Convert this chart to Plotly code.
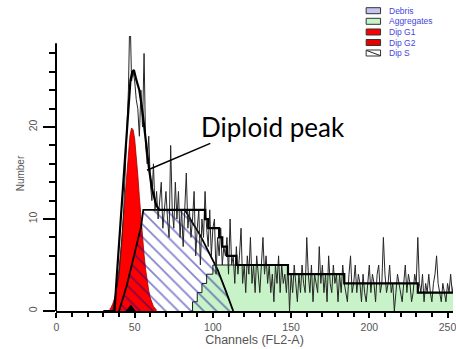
import plotly.graph_objects as go

# ---------------- data ----------------
raw_channels = list(range(30, 256))
raw_counts = [
    0, 0, 0, 0, 0, 0,
    0,
    1, 2, 3, 4, 6, 8, 11, 15, 20, 24,
    33, 25, 26, 25, 23, 22, 19, 24, 20, 28,
    18, 16, 19, 14, 12, 16, 11, 13, 10, 12,
    14, 9, 11, 13, 10, 8, 18, 11, 9, 14,
    10, 13, 8, 11, 7, 12, 15, 9, 11, 8,
    10, 13, 6, 9, 11, 5, 10, 8, 13, 9,
    7, 11, 6, 9, 10, 4, 8, 6, 9, 5,
    7, 6, 8, 4, 10, 5, 6, 3, 7, 4,
    6, 9, 3, 5, 2, 6, 4, 8, 3, 5,
    2, 6, 4, 2, 5, 8, 4, 6, 3, 5,
    2, 4, 1, 5, 3, 6, 2, 5, 3, 4,
    2, 5, 0, 4, 2, 5, 3, 1, 4, 2,
    5, 3, 2, 8, 4, 2, 5, 1, 4, 3,
    2, 7, 3, 5, 2, 4, 1, 6, 3, 2,
    5, 3, 4, 1, 4, 2, 5, 3, 2, 1,
    4, 6, 2, 3, 5, 2, 4, 3, 1, 4,
    2, 1, 3, 5, 2, 4, 3, 1, 4, 5,
    2, 3, 8, 4, 2, 3, 5, 2, 3, 0,
    2, 4, 3, 2, 1, 3, 5, 2, 4, 3,
    1, 2, 4, 3, 8, 3, 2, 4, 1, 3,
    2, 4, 2, 1, 3, 4, 6, 3, 2, 1,
    3, 2, 1, 3, 2, 4, 2, 3, 2,
]

g1_channels = list(range(34, 65))
g1_counts = [0.2, 0.4, 0.8, 1.3, 2.1, 3.2, 4.6, 6.4, 8.5, 10.9, 13.3, 15.7, 17.7,
             19.1, 19.9, 19.7, 18.7, 17.0, 14.8, 12.4, 10.1, 8.0, 6.1, 4.5, 3.2,
             2.2, 1.4, 0.9, 0.5, 0.3, 0.1]

s_channels = [40, 45, 50, 54, 55.5, 82, 92, 100, 103, 108, 113]
s_counts = [0, 2.8, 6.3, 9.1, 11, 11, 8.2, 5.5, 4.5, 2.3, 0]

agg_channels = [86, 87, 87, 90, 90, 93, 93, 96, 96, 100, 100, 148, 148, 184, 184, 231, 231, 256]
agg_counts = [0, 0, 1, 1, 2, 2, 3, 3, 4, 4, 5, 5, 4, 4, 3, 3, 2, 2]

fit_channels = [30, 37.1, 38.4, 39.7, 40.9, 42.2, 43.5, 44.7, 46, 47.3, 48.5, 49.5,
                51.1, 53, 54.9, 56.2, 57.5, 59.3, 61.2, 63.8, 65.7,
                95, 95, 97, 97, 104, 104, 106, 106, 109, 109, 115, 115,
                148, 148, 184, 184, 231, 231, 256]
fit_counts = [0, 0, 3.4, 6.6, 9.9, 13.2, 16.4, 19.7, 22.9, 25.1, 26, 26.2,
              25.1, 24, 21.8, 19.7, 17.5, 15.3, 13.2, 11.5, 11,
              11, 10, 10, 9, 9, 8, 8, 7, 7, 6, 6, 5,
              5, 4, 4, 3, 3, 2, 2]

g1_mean_channel = [47.5]
g1_marker_level = [0.15]

legend_labels = ["Debris", "Aggregates", "Dip G1", "Dip G2", "Dip S"]
legend_colors = ["#c4c4f2", "#c8f3c8", "#ff0000", "#e80000", "#ffffff"]

# ---------------- figure ----------------
GREEN = "#c8f3c8"
fig = go.Figure()

fig.add_trace(go.Scatter(x=agg_channels, y=agg_counts, mode="lines", fill="tozeroy",
                         fillcolor=GREEN, line=dict(color="#1a1a1a", width=1),
                         showlegend=False, hoverinfo="skip"))
fig.add_trace(go.Scatter(x=g1_channels, y=g1_counts, mode="lines", fill="tozeroy",
                         fillcolor="#ff0000", line=dict(color="#a00000", width=0.8),
                         showlegend=False, hoverinfo="skip"))
fig.add_trace(go.Scatter(x=s_channels, y=s_counts, mode="lines", fill="tozeroy",
                         fillcolor="rgba(0,0,0,0)",
                         fillpattern=dict(shape="\\", fgcolor="#0a0a9c", size=9,
                                          solidity=0.2, fillmode="overlay"),
                         line=dict(color="#000000", width=1.8),
                         showlegend=False, hoverinfo="skip"))
fig.add_trace(go.Scatter(x=raw_channels, y=raw_counts, mode="lines",
                         line=dict(color="#262626", width=1),
                         showlegend=False, hoverinfo="skip"))
fig.add_trace(go.Scatter(x=fit_channels, y=fit_counts, mode="lines",
                         line=dict(color="#000000", width=2.2),
                         showlegend=False, hoverinfo="skip"))
fig.add_trace(go.Scatter(x=g1_mean_channel, y=g1_marker_level, mode="markers",
                         marker=dict(symbol="triangle-up", size=10, color="black"),
                         cliponaxis=False, showlegend=False, hoverinfo="skip"))

L, R, T, B = 56, 0, 36, 38
W, H = 456, 349
PW, PH = W - L - R, H - T - B


def pxx(px):
    return (px - L) / PW


def pxy(py):
    return (H - B - py) / PH


shapes = [dict(type="line", xref="paper", yref="y", x0=0, x1=0, y0=0, y1=29.1,
               line=dict(color="black", width=2), layer="above")]
annotations = []
row_y = [10.7, 21.3, 32, 42.5, 53]
for lab, col, ry in zip(legend_labels, legend_colors, row_y):
    shapes.append(dict(type="rect", xref="paper", yref="paper",
                       x0=pxx(368.5), x1=pxx(383), y0=pxy(ry - 3), y1=pxy(ry + 3),
                       fillcolor=col, line=dict(color="#333333", width=1)))
    annotations.append(dict(xref="paper", yref="paper", x=pxx(390), y=pxy(ry),
                            xanchor="left", yanchor="middle", text=lab, showarrow=False,
                            font=dict(family="Liberation Sans, Arial", size=8.5,
                                      color="rgb(70,70,220)")))
# diagonal in the Dip S swatch
shapes.append(dict(type="line", xref="paper", yref="paper",
                   x0=pxx(369), y0=pxy(row_y[4] - 2.5), x1=pxx(382.5), y1=pxy(row_y[4] + 2.5),
                   line=dict(color="#222222", width=1)))

annotations.append(dict(x=57.9, y=15.3, ax=99.3, ay=18.3, xref="x", yref="y",
                        axref="x", ayref="y", text="", showarrow=True, arrowhead=0,
                        arrowwidth=1.5, arrowcolor="black"))
annotations.append(dict(x=91, y=20.0, xref="x", yref="y", xanchor="left",
                        yanchor="middle", text="Diploid peak", showarrow=False,
                        font=dict(family="Lato", size=26, color="black")))

tickfont = dict(family="Liberation Sans, Arial", size=10.5, color="#555555")
fig.update_layout(
    width=W, height=H,
    margin=dict(l=L, r=R, t=T, b=B, pad=0),
    paper_bgcolor="white", plot_bgcolor="white",
    shapes=shapes, annotations=annotations,
    xaxis=dict(range=[-0.3, 253.5], showgrid=False, zeroline=False,
               showline=True, linecolor="black", linewidth=2,
               tickmode="linear", tick0=0, dtick=50, ticks="outside",
               ticklen=5, tickwidth=1.5, tickcolor="black", tickfont=tickfont,
               ticklabeloverflow="allow",
               minor=dict(dtick=10, tick0=0, ticks="outside", ticklen=4,
                          tickwidth=1.5, tickcolor="black"),
               title=dict(text="Channels (FL2-A)", standoff=2,
                          font=dict(family="Liberation Sans, Arial", size=12.5,
                                    color="#555555"))),
    yaxis=dict(range=[0, 29.9], showgrid=False, zeroline=False, showline=False,
               tickmode="linear", tick0=0, dtick=10, ticks="outside",
               ticklen=12, tickwidth=1.5, tickcolor="black", tickangle=-90,
               tickfont=tickfont, ticklabelstandoff=2,
               minor=dict(dtick=2, tick0=0, ticks="outside", ticklen=6,
                          tickwidth=1.5, tickcolor="black"),
               title=dict(text="Number", standoff=0,
                          font=dict(family="Liberation Sans, Arial", size=10,
                                    color="#555555"))),
)

fig.write_html("out.html")
